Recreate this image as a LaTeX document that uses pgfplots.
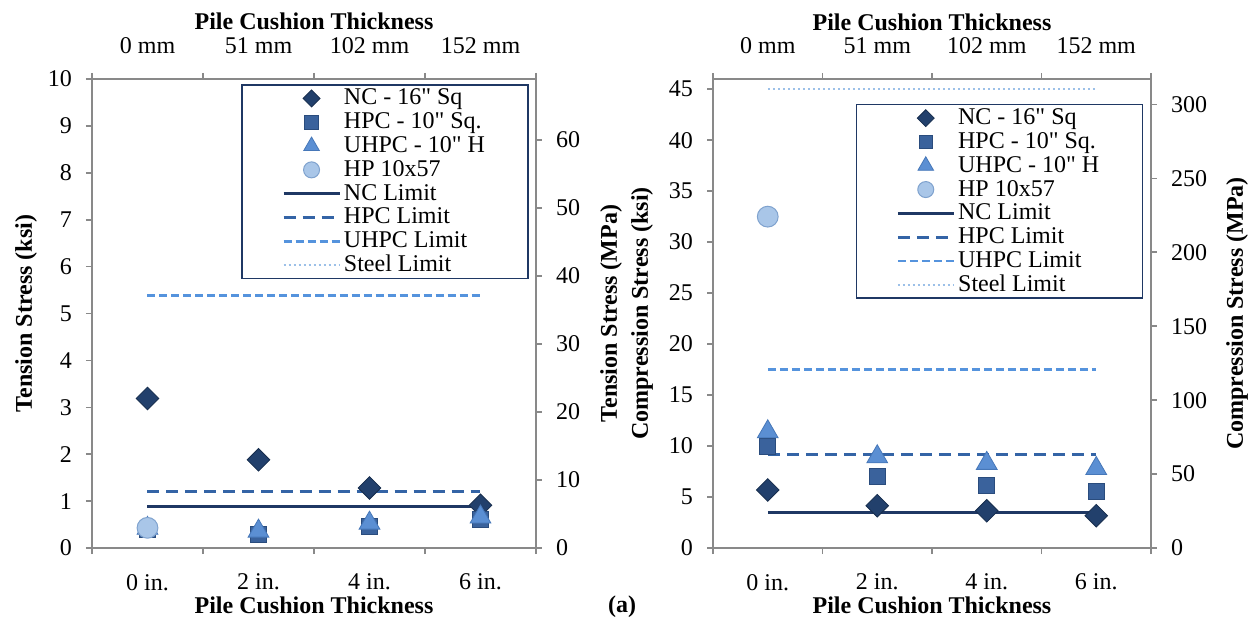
\documentclass[border=0pt]{standalone}
\usepackage{fontspec}
\setmainfont{Liberation Serif}
\usepackage{pgfplots}
\pgfplotsset{compat=1.18}

\definecolor{axisgray}{HTML}{898989}
\definecolor{legendblue}{HTML}{1F3864}
\definecolor{ncfill}{HTML}{22406C}
\definecolor{ncdraw}{HTML}{172D4D}
\definecolor{hpcfill}{HTML}{3A629C}
\definecolor{hpcdraw}{HTML}{2A4C7D}
\definecolor{uhpcfill}{HTML}{5B8FD3}
\definecolor{uhpcdraw}{HTML}{4677B8}
\definecolor{hpball}{HTML}{A9C6E8}
\definecolor{hpdraw}{HTML}{7FA2CE}
\definecolor{nclim}{HTML}{1F3864}
\definecolor{hpclim}{HTML}{3464A6}
\definecolor{uhpclim}{HTML}{5593DD}
\definecolor{steellim}{HTML}{9CC0E8}

\pgfplotsset{
  limg/.style={legend image code/.code={\draw[mark repeat=2,mark phase=2,##1] plot coordinates {(0pt,0pt) (14pt,0pt) (28pt,0pt)};}},
  ncmark/.style={only marks, mark=square*, mark size=4pt, mark options={rotate=45, fill=ncfill, draw=ncdraw, line width=0.4pt}},
  hpcmark/.style={only marks, mark=square*, mark size=4pt, mark options={fill=hpcfill, draw=hpcdraw, line width=0.4pt}},
  uhpcmark/.style={only marks, mark=triangle*, mark size=6pt, mark options={fill=uhpcfill, draw=uhpcdraw, line width=0.4pt}},
  hpmark/.style={only marks, mark=*, mark size=5.2pt, mark options={fill=hpball, draw=hpdraw, line width=0.5pt}},
  nclimit/.style={no marks, color=nclim, line width=1.4pt},
  hpclimit/.style={no marks, color=hpclim, line width=1.4pt, dash pattern=on 6pt off 3.5pt},
  uhpclimit/.style={no marks, color=uhpclim, line width=1.4pt, dash pattern=on 4pt off 2pt},
  steellimit/.style={no marks, color=steellim, line width=1.2pt, dash pattern=on 1pt off 1.5pt},
  chartbase/.style={
    scale only axis, height=234.5pt,
    xmin=0.5, xmax=4.5,
    axis line style={draw=axisgray, line width=0.8pt},
    tick style={draw=axisgray, line width=0.8pt},
    tick align=outside, major tick length=3pt, minor tick length=3pt,
    major x tick style={draw=none},
    xtick={1,2,3,4},
    minor xtick={0.5,1.5,2.5,3.5,4.5},
    ticklabel style={font=\fontsize{12}{14}\selectfont},
    label style={font=\bfseries\fontsize{12}{14}\selectfont},
    /pgf/number format/assume math mode=true,
  },
  mainaxis/.style={
    chartbase,
    xtick pos=left, ytick pos=left,
    xticklabels={0 in.,2 in.,4 in.,6 in.},
    xticklabel style={yshift=-6.5pt},
    yticklabel style={xshift=-3.5pt},
    xlabel={Pile Cushion Thickness},
    xlabel style={at={([yshift=-32.5pt]axis description cs:0.5,0)}, anchor=base},
    legend cell align=left,
    legend style={anchor=north east, draw=legendblue, line width=0.8pt,
      font=\fontsize{12}{14}\selectfont, inner xsep=20pt, inner ysep=1.5pt,
      row sep=1.4pt, nodes={inner xsep=1.5pt, inner ysep=0pt, text height=8.5pt, text depth=2pt}},
  },
  secaxis/.style={
    chartbase,
    axis line style={draw=none},
    xtick pos=right, ytick pos=right,
    xticklabel pos=right, yticklabel pos=right,
    xticklabels={0 mm,51 mm,102 mm,152 mm},
    xticklabel style={yshift=6pt},
    yticklabel style={xshift=3.5pt},
    xlabel={Pile Cushion Thickness},
    xlabel style={at={([yshift=24.5pt]axis description cs:0.5,1)}, anchor=base},
  },
}

\newcommand{\legendset}{%
  \addlegendimage{ncmark, mark size=3pt, limg}\addlegendentry{NC - 16\textquotedbl{} Sq}
  \addlegendimage{hpcmark, mark size=3.4pt, limg}\addlegendentry{HPC - 10\textquotedbl{} Sq.}
  \addlegendimage{uhpcmark, mark size=4.5pt, limg}\addlegendentry{UHPC - 10\textquotedbl{} H}
  \addlegendimage{hpmark, mark size=4pt, limg}\addlegendentry{HP 10x57}
  \addlegendimage{nclimit, limg}\addlegendentry{NC Limit}
  \addlegendimage{hpclimit, limg}\addlegendentry{HPC Limit}
  \addlegendimage{uhpclimit, limg}\addlegendentry{UHPC Limit}
  \addlegendimage{steellimit, limg}\addlegendentry{Steel Limit}
}

\begin{document}
\begin{tikzpicture}
\useasboundingbox (0,0) rectangle (624.5pt,308.5pt);

% ---- tension (left) ----
\begin{axis}[mainaxis, at={(46pt,34.5pt)}, anchor=south west, width=222pt,
  ymin=0, ymax=10, ytick={0,1,...,10},
  ylabel={Tension Stress (ksi)},
  ylabel style={at={([xshift=-33pt]axis description cs:0,0.5)}, anchor=center},
  legend style={at={(0.984,0.989)}}]
\legendset
\addplot[nclimit, forget plot] coordinates {(1,0.89) (4,0.89)};
\addplot[hpclimit, forget plot] coordinates {(1,1.2) (4,1.2)};
\addplot[uhpclimit, forget plot] coordinates {(1,5.38) (4,5.38)};
\addplot[steellimit, forget plot] coordinates {(1,45) (4,45)};
\addplot[ncmark, forget plot] coordinates {(1,3.19) (2,1.88) (3,1.28) (4,0.91)};
\addplot[hpcmark, forget plot] coordinates {(1,0.40) (2,0.30) (3,0.46) (4,0.60)};
\addplot[uhpcmark, forget plot] coordinates {(1,0.42) (2,0.36) (3,0.53) (4,0.66)};
\addplot[hpmark, forget plot] coordinates {(1,0.43)};
\end{axis}
\begin{axis}[secaxis, at={(46pt,34.5pt)}, anchor=south west, width=222pt,
  ymin=0, ymax=68.95, ytick={0,10,...,60},
  ylabel={Tension Stress (MPa)},
  ylabel style={at={([xshift=37.5pt]axis description cs:1,0.5)}, anchor=center, rotate=0}]
\end{axis}

% ---- compression (right) ----
\begin{axis}[mainaxis, at={(356.5pt,34.5pt)}, anchor=south west, width=219pt,
  ymin=0, ymax=46, ytick={0,5,...,45},
  ylabel={Compression Stress (ksi)},
  ylabel style={at={([xshift=-35.5pt]axis description cs:0,0.5)}, anchor=center},
  legend style={at={(0.982,0.947)}}]
\legendset
\addplot[nclimit, forget plot] coordinates {(1,3.5) (4,3.5)};
\addplot[hpclimit, forget plot] coordinates {(1,9.2) (4,9.2)};
\addplot[uhpclimit, forget plot] coordinates {(1,17.5) (4,17.5)};
\addplot[steellimit, forget plot] coordinates {(1,45) (4,45)};
\addplot[ncmark, forget plot] coordinates {(1,5.7) (2,4.15) (3,3.65) (4,3.17)};
\addplot[hpcmark, forget plot] coordinates {(1,10.0) (2,7.0) (3,6.1) (4,5.6)};
\addplot[uhpcmark, forget plot] coordinates {(1,11.4) (2,8.95) (3,8.3) (4,7.8)};
\addplot[hpmark, forget plot] coordinates {(1,32.5)};
\end{axis}
\begin{axis}[secaxis, at={(356.5pt,34.5pt)}, anchor=south west, width=219pt,
  ymin=0, ymax=317.2, ytick={0,50,...,300},
  ylabel={Compression Stress (MPa)},
  ylabel style={at={([xshift=43pt]axis description cs:1,0.5)}, anchor=center, rotate=0}]
\end{axis}

\node[font=\bfseries\fontsize{12}{14}\selectfont, anchor=base] at (311pt,2.5pt) {(a)};
\end{tikzpicture}
\end{document}
